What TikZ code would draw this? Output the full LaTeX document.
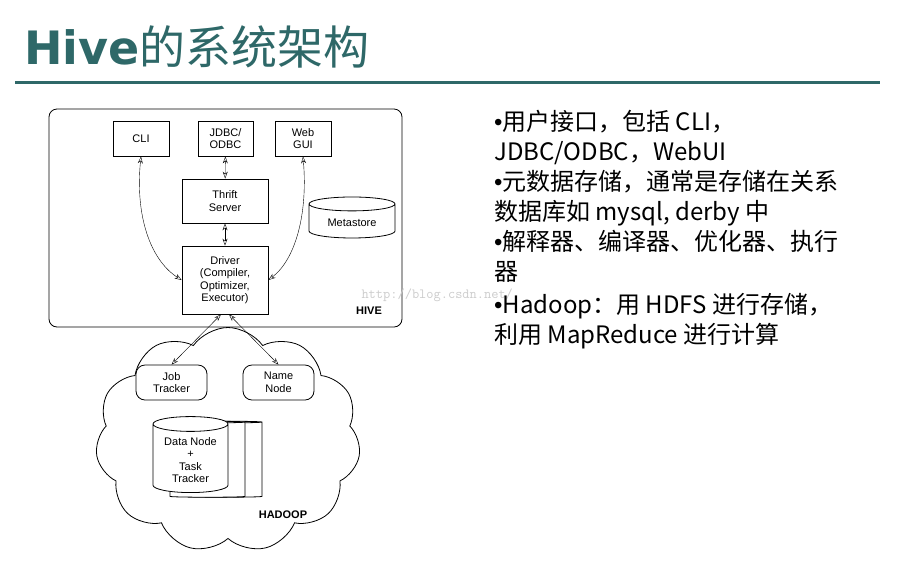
\documentclass[tikz,border=0pt]{standalone}
\usepackage{fontspec}
\setmainfont{Liberation Sans}
\newfontfamily\cjk{Noto Sans CJK SC}
\newfontfamily\heavy{DejaVu Sans}
\usetikzlibrary{shapes.geometric,shapes.symbols,arrows.meta}
\definecolor{hiveteal}{RGB}{46,104,104}
\newcommand{\pt}{{\rmfamily •}}
\tikzset{
  box/.style={draw, thick, fill=white, align=center, inner sep=1pt, font=\fontsize{11}{12.5}\selectfont},
  drum/.style={draw, thick, fill=white, cylinder, shape border rotate=90, aspect=0.25, align=center, font=\fontsize{11}{12.5}\selectfont},
  link/.style={thin, {Stealth[open,length=7pt,width=5pt]}-{Stealth[open,length=7pt,width=5pt]}},
  point/.style={anchor=base west, inner sep=0, font=\cjk\fontsize{24}{28}\selectfont}
}
\begin{document}
\begin{tikzpicture}[x=1pt,y=-1pt]
  \useasboundingbox (0,0) rectangle (909,563);
  % title
  \node[anchor=base west, inner sep=0, text=hiveteal] (title) at (24,64)
       {\fontsize{46}{48}\selectfont{\heavy\bfseries Hive}\cjk 的系统架构};
  \draw[hiveteal, line width=3pt] (15,82) -- (880,82);

  % hive box
  \draw[thick, rounded corners=8pt, fill=white] (49,109) rectangle (402,327);
  \node[box, minimum width=56pt, minimum height=35pt] (cli) at (141,138.5) {CLI};
  \node[box, minimum width=55pt, minimum height=35pt] (jdbc) at (225.5,138.5) {JDBC/\\ODBC};
  \node[box, minimum width=56pt, minimum height=35pt] (web) at (303,138.5) {Web\\GUI};
  \node[box, minimum width=86pt, minimum height=44pt] (thrift) at (225,201) {Thrift\\Server};
  \node[box, minimum width=86pt, minimum height=68pt] (driver) at (225,280) {Driver\\(Compiler,\\Optimizer,\\Executor)};
  \node[drum, minimum width=86pt, minimum height=41pt] (meta) at (352,222.5) {Metastore};
  \node[font=\bfseries\fontsize{11}{12}\selectfont] (hive) at (369,311) {HIVE};

  \draw[link] (jdbc) -- (thrift);
  \draw[link] (thrift) -- (driver);
  \draw[link] (cli.south) .. controls (135,215) and (150,260) .. (driver.west);
  \draw[link] (web.south) .. controls (308,215) and (295,260) .. (driver.east);

  % hadoop cloud
  \node[draw, thick, fill=white, cloud, cloud puffs=11, cloud puff arc=110,
        minimum width=265pt, minimum height=225pt] (cloud) at (228,440) {};
  \node[box, rounded corners=9pt, minimum width=71pt, minimum height=35pt] (job) at (171.5,382.5) {Job\\Tracker};
  \node[box, rounded corners=9pt, minimum width=71pt, minimum height=35pt] (name) at (278.5,382.5) {Name\\Node};
  \foreach \dx in {34,17} {
    \node[drum, minimum width=75pt, minimum height=76pt] at (190.5+\dx,460) {};
  }
  \node[drum, minimum width=75pt, minimum height=76pt] (data) at (190.5,460) {Data Node\\+\\Task\\Tracker};
  \node[font=\bfseries\fontsize{11}{12}\selectfont] (hadoop) at (283,515) {HADOOP};

  \draw[link] (driver.south) ++(-4,0) coordinate (dl) (dl) -- (job.north);
  \draw[link] (driver.south) ++(4,0) coordinate (dr) (dr) -- (name.north);

  % watermark
  \node[anchor=base west, text=gray!40, font=\ttfamily\fontsize{14}{14}\selectfont] (mark) at (358,298) {http://blog.csdn.net/};

  % right text
  \node[point] (p1) at (494,130) {\pt 用户接口，包括 CLI，};
  \node[point] (p2) at (494,160) {JDBC/ODBC，WebUI};
  \node[point] (p3) at (494,190) {\pt 元数据存储，通常是存储在关系};
  \node[point] (p4) at (494,220) {数据库如 mysql, derby 中};
  \node[point] (p5) at (494,250) {\pt 解释器、编译器、优化器、执行};
  \node[point] (p6) at (494,280) {器};
  \node[point] (p7) at (494,313) {\pt Hadoop：用 HDFS 进行存储，};
  \node[point] (p8) at (494,343) {利用 MapReduce 进行计算};
\end{tikzpicture}
\end{document}
